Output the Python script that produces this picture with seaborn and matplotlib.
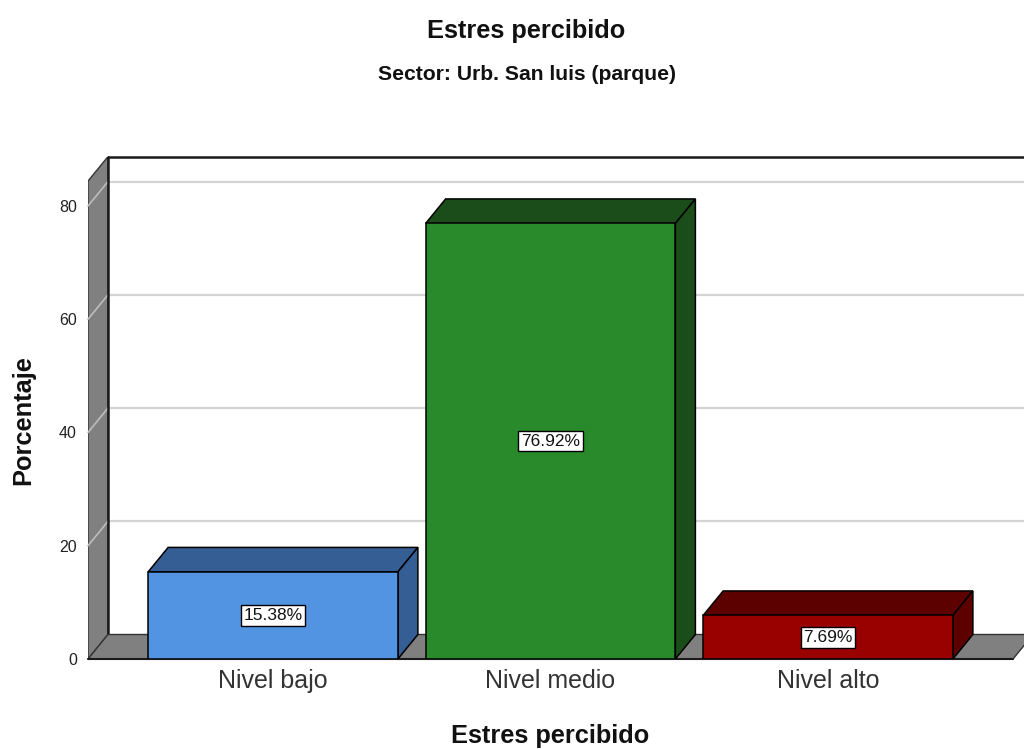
import matplotlib
matplotlib.use("Agg")
import matplotlib.pyplot as plt
from matplotlib.patches import Polygon
import seaborn as sns

# Data
categories = ["Nivel bajo", "Nivel medio", "Nivel alto"]
percentages = [15.38, 76.92, 7.69]
value_labels = ["15.38%", "76.92%", "7.69%"]
y_ticks = [0, 20, 40, 60, 80]

front_colors = ["#5294E2", "#288A2B", "#990000"]
shade_colors = ["#345E94", "#1B4D1A", "#5C0000"]

sns.set_theme(style="white")
plt.rcParams["font.family"] = ["Liberation Sans", "DejaVu Sans"]

fig = plt.figure(figsize=(10.24, 7.49), dpi=100)
ax = fig.add_axes([88 / 1024, 1 - 659 / 749, 936 / 1024, (659 - 157) / 749])

# Front faces of the bars
sns.barplot(x=categories, y=percentages, hue=categories, palette=front_colors,
            width=0.9, edgecolor="black", linewidth=1.1, legend=False,
            saturation=1, ax=ax, zorder=3)
bar_patches = list(ax.patches)

# Oblique projection: depth offset in data units
px_per_cat = 277.5
px_per_pct = 5.6625
dx = 20 / px_per_cat
dy = 24.5 / px_per_pct

x_left = -0.6667
x_right_front = 2.6667
x_max = x_left + 936 / px_per_cat
front_top = 84.4
y_max = (659 - 157) / px_per_pct

ax.set_xlim(x_left, x_max)
ax.set_ylim(0, y_max)

wall_gray = "#808080"
edge_dark = "#1a1a1a"
grid_col = "#D4D4D4"

# Left side wall
ax.add_patch(Polygon([(x_left, 0), (x_left, front_top), (x_left + dx, front_top + dy),
                      (x_left + dx, dy)], closed=True, facecolor=wall_gray,
                     edgecolor="#333333", linewidth=1.0, zorder=0.5))
# Gridlines on back wall and across the side wall
for v in y_ticks[1:]:
    ax.plot([x_left + dx, x_max], [v + dy, v + dy], color=grid_col, lw=1.6,
            zorder=0.3, clip_on=False)
    ax.plot([x_left, x_left + dx], [v, v + dy], color="#BDBDBD", lw=1.2,
            zorder=0.6, clip_on=False)

# Back wall outline
ax.plot([x_left + dx, x_max], [front_top + dy, front_top + dy], color=edge_dark,
        lw=1.8, zorder=0.7, clip_on=False)
ax.plot([x_left + dx, x_left + dx], [dy, front_top + dy], color=edge_dark,
        lw=1.8, zorder=0.7, clip_on=False)

# Floor
ax.add_patch(Polygon([(x_left, 0), (x_right_front, 0), (x_right_front + dx, dy),
                      (x_left + dx, dy)], closed=True, facecolor=wall_gray,
                     edgecolor="#333333", linewidth=1.0, zorder=0.8, clip_on=False))
ax.plot([x_left, x_right_front], [0, 0], color=edge_dark, lw=1.5, zorder=0.9,
        clip_on=False)

# Top and side faces built from the bar patches
for patch, shade, label in zip(bar_patches, shade_colors, value_labels):
    x0 = patch.get_x()
    x1 = x0 + patch.get_width()
    h = patch.get_height()
    ax.add_patch(Polygon([(x0, h), (x1, h), (x1 + dx, h + dy), (x0 + dx, h + dy)],
                         closed=True, facecolor=shade, edgecolor="black",
                         linewidth=1.1, zorder=2.9))
    ax.add_patch(Polygon([(x1, 0), (x1, h), (x1 + dx, h + dy), (x1 + dx, dy)],
                         closed=True, facecolor=shade, edgecolor="black",
                         linewidth=1.1, zorder=2.9))
    ax.text((x0 + x1) / 2, h / 2, label, ha="center", va="center", fontsize=12.5,
            color="#111111", zorder=5,
            bbox=dict(boxstyle="square,pad=0.16", facecolor="white",
                      edgecolor="black", linewidth=1.0))

for s in ax.spines.values():
    s.set_visible(False)
ax.patch.set_visible(False)
ax.grid(False)

ax.set_yticks(y_ticks)
ax.set_yticklabels([str(t) for t in y_ticks])
ax.tick_params(axis="y", length=0, pad=8, labelsize=11.5, labelcolor="#222222")
ax.set_xticks(range(len(categories)))
ax.set_xticklabels(categories)
ax.tick_params(axis="x", length=0, pad=7, labelsize=18, labelcolor="#333333")
ax.set_xlabel("")
ax.set_ylabel("")

# Titles and axis labels
fig.text(526.5 / 1024, 1 - 38 / 749, "Estres percibido", ha="center", va="baseline",
         fontsize=18.3, fontweight="bold", color="#111111")
fig.text(527 / 1024, 1 - 80 / 749, "Sector: Urb. San luis (parque)", ha="center",
         va="baseline", fontsize=15.2, fontweight="bold", color="#111111")
fig.text(550 / 1024, 1 - 743 / 749, "Estres percibido", ha="center", va="baseline",
         fontsize=18.3, fontweight="bold", color="#111111")
fig.text(23 / 1024, 1 - 420 / 749, "Porcentaje", ha="center", va="center",
         rotation=90, fontsize=18.3, fontweight="bold", color="#111111")

fig.savefig("out.png", dpi=100, facecolor="white")
